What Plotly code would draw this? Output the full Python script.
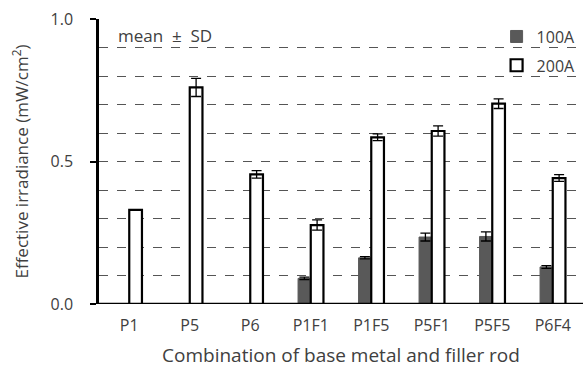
import plotly.graph_objects as go

categories = ["P1", "P5", "P6", "P1F1", "P1F5", "P5F1", "P5F5", "P6F4"]
val_100A = [None, None, None, 0.09, 0.162, 0.235, 0.237, 0.13]
sd_100A = [0, 0, 0, 0.004, 0.004, 0.014, 0.016, 0.005]
val_200A = [0.33, 0.76, 0.455, 0.277, 0.585, 0.607, 0.703, 0.442]
sd_200A = [0.0, 0.032, 0.013, 0.018, 0.012, 0.018, 0.017, 0.012]

font_family = "Open Sans, Liberation Sans, sans-serif"
text_color = "#404040"

fig = go.Figure()
fig.add_trace(go.Bar(
    name="100A", x=categories, y=val_100A, legendgroup="a",
    marker=dict(color="#595959", line=dict(color="#595959", width=1)),
    error_y=dict(type="data", array=sd_100A, visible=True, color="black", thickness=1.3, width=5),
))
fig.add_trace(go.Bar(
    name="200A", x=categories, y=val_200A, legendgroup="b",
    marker=dict(color="white", line=dict(color="black", width=2.2)),
    error_y=dict(type="data", array=sd_200A, visible=True, color="black", thickness=1.3, width=5),
))

fig.update_layout(
    width=584, height=368,
    margin=dict(l=99, r=1, t=19, b=64),
    paper_bgcolor="white", plot_bgcolor="white",
    barmode="group", bargap=0.58, bargroupgap=0,
    font=dict(family=font_family, size=16, color=text_color),
    showlegend=True,
    legend=dict(x=0.995, y=0.998, xanchor="right", yanchor="top",
                bgcolor="rgba(255,255,255,0)", font=dict(size=16, color=text_color),
                itemwidth=30, tracegroupgap=5, traceorder="grouped"),
    xaxis=dict(
        range=[-0.5, 7.5], showline=False, ticks="", showgrid=False, automargin=False,
        ticklabelstandoff=10,
        title=dict(text="Combination of base metal and filler rod", font=dict(size=19), standoff=16),
        tickfont=dict(size=16),
    ),
    yaxis=dict(
        range=[0, 1.0], tickvals=[0, 0.5, 1.0], tickformat=".1f", automargin=False,
        showline=True, linecolor="black", linewidth=2.5,
        ticks="outside", ticklen=6, tickwidth=2, tickcolor="black",
        ticklabelstandoff=14,
        showgrid=True, gridcolor="#555555", griddash="dash", gridwidth=1,
        minor=dict(dtick=0.1, showgrid=True, gridcolor="#555555", griddash="dash", gridwidth=1, ticks=""),
        zeroline=False,
        title=dict(text="Effective irradiance (mW/cm<sup>2</sup>)", font=dict(size=17), standoff=18),
        tickfont=dict(size=16),
    ),
    annotations=[dict(text="mean \u00a0\u00b1\u00a0 SD", x=0.035, y=0.99, xref="paper", yref="paper",
                      xanchor="left", yanchor="top", showarrow=False, font=dict(size=17, color=text_color))],
    shapes=[dict(type="line", xref="paper", yref="y", x0=0, x1=1, y0=0, y1=0,
                 line=dict(color="black", width=2.5), layer="above")],
)

fig.write_html("out.html")
